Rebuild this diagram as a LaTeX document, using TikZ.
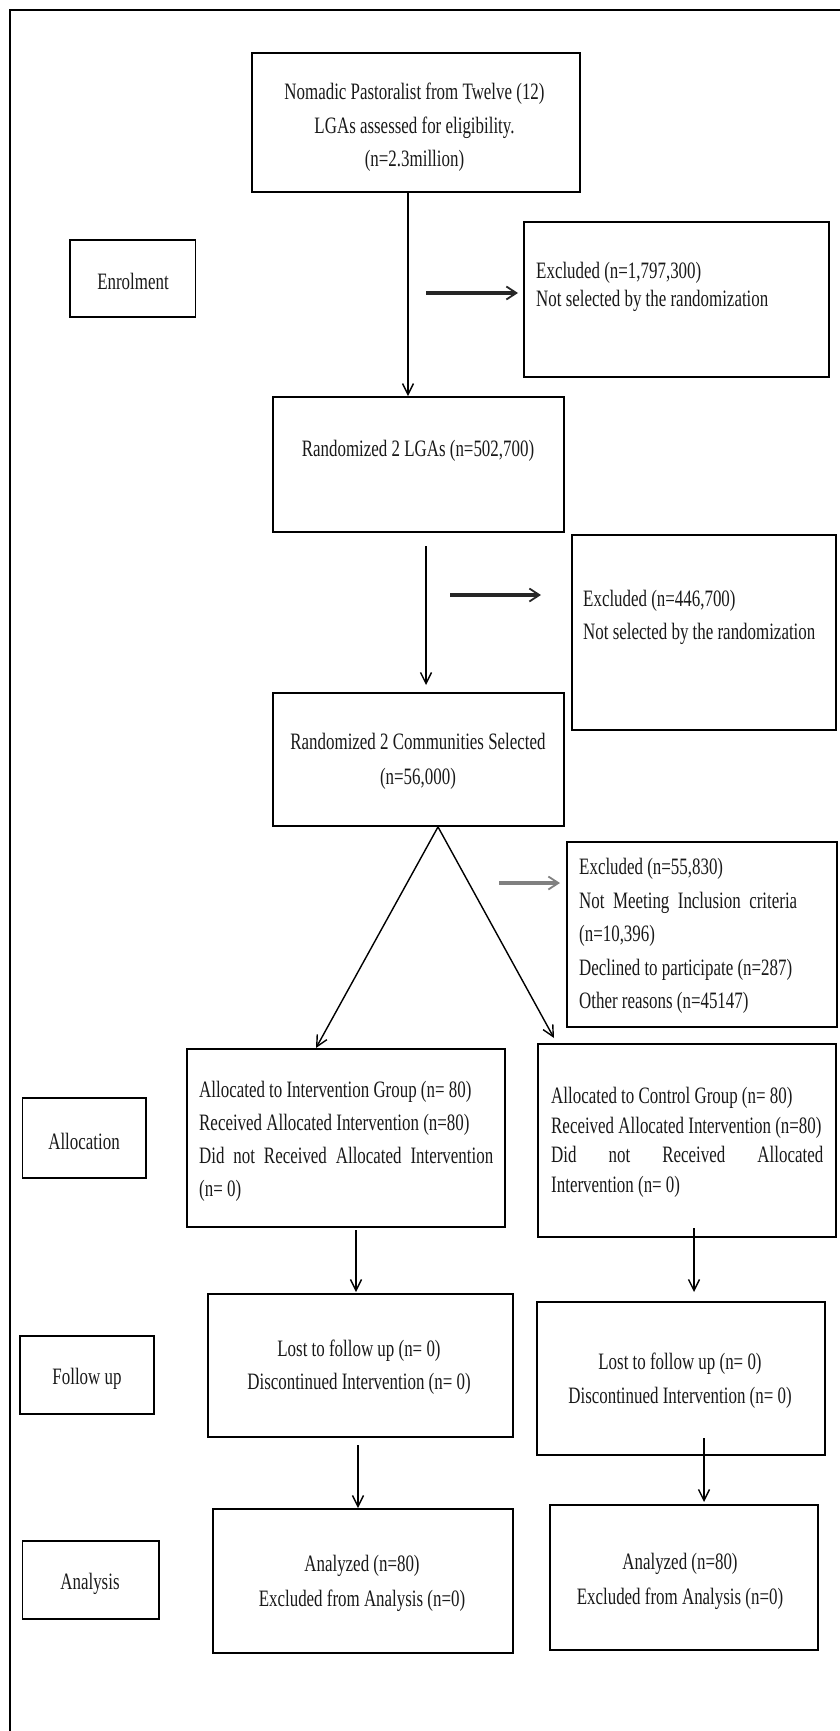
\documentclass[tikz,border=0pt]{standalone}
\usepackage{fontspec}
\setmainfont{Liberation Serif}[FakeStretch=0.72]
\usetikzlibrary{arrows.meta}
\begin{document}
\begin{tikzpicture}[x=1pt,y=-1pt,
  box/.style={draw, line width=1.8pt, inner sep=0pt},
  txt/.style={inner sep=0pt, text=black!90},
  sp/.style={font=\fontsize{23.5}{#1}\selectfont},
  arr/.style={line width=1.4pt, -{Straight Barb[length=11pt,width=11pt,line width=1.4pt]}},
  harr/.style={line width=3.5pt, draw=black!85, -{Straight Barb[length=10pt,width=13pt,line width=1.8pt]}}]
\useasboundingbox (0,0) rectangle (840,1731);
% outer frame
\draw[line width=2pt] (10,1731) -- (10,10) -- (840,10);

% boxes
\node[box, minimum width=328pt, minimum height=139pt] (top) at (416,122.5) {};
\node[box, minimum width=125.5pt, minimum height=77pt] (enr) at (132.75,278.5) {};
\node[box, minimum width=305pt, minimum height=155pt] (ex1) at (676.5,299.5) {};
\node[box, minimum width=291pt, minimum height=135pt] (rand) at (418.5,464.5) {};
\node[box, minimum width=264pt, minimum height=195pt] (ex2) at (704,632.5) {};
\node[box, minimum width=291pt, minimum height=133pt] (comm) at (418.5,759.5) {};
\node[box, minimum width=270pt, minimum height=185pt] (ex3) at (702,934.5) {};
\node[box, minimum width=123.5pt, minimum height=80pt] (alloc) at (84.25,1138) {};
\node[box, minimum width=318pt, minimum height=178pt] (interv) at (346,1138) {};
\node[box, minimum width=298pt, minimum height=193pt] (ctrl) at (687,1140.5) {};
\node[box, minimum width=134pt, minimum height=78pt] (ful) at (87,1375) {};
\node[box, minimum width=305pt, minimum height=143pt] (fu1) at (360.5,1365.5) {};
\node[box, minimum width=288pt, minimum height=153pt] (fu2) at (681,1378.5) {};
\node[box, minimum width=136.5pt, minimum height=78pt] (anl) at (90.75,1580) {};
\node[box, minimum width=300pt, minimum height=144pt] (an1) at (363,1581) {};
\node[box, minimum width=268pt, minimum height=145pt] (an2) at (684,1577.5) {};

% texts
\node[txt, sp=33.5, align=center] (ttop) at (414.5,127.5) {Nomadic Pastoralist from Twelve (12)\\LGAs assessed for eligibility.\\(n=2.3million)};
\node[txt, sp=24] (tenr) at (133,281) {Enrolment};
\node[txt, sp=28, align=left, anchor=west] (tex1) at (536,287) {Excluded (n=1,797,300)\\Not selected by the randomization};
\node[txt, sp=24] (trand) at (418,451) {Randomized 2 LGAs (n=502,700)};
\node[txt, sp=33, align=left, anchor=west] (tex2) at (583,617.5) {Excluded (n=446,700)\\Not selected by the randomization};
\node[txt, sp=35, align=center] (tcomm) at (418,761.5) {Randomized 2 Communities Selected\\(n=56,000)};
\node[txt, sp=33.5, align=left, anchor=west] (tex3) at (579,936) {Excluded (n=55,830)\\\makebox[218pt][s]{Not Meeting Inclusion criteria}\\(n=10,396)\\Declined to participate (n=287)\\Other reasons (n=45147)};
\node[txt, sp=24] (talloc) at (84,1141) {Allocation};
\node[txt, sp=33, align=left, anchor=west] (tinterv) at (199,1141) {Allocated to Intervention Group (n= 80)\\Received Allocated Intervention (n=80)\\\makebox[294pt][s]{Did not Received Allocated Intervention}\\(n= 0)};
\node[txt, sp=29.5, align=left, anchor=west] (tctrl) at (551,1142.5) {Allocated to Control Group (n= 80)\\Received Allocated Intervention (n=80)\\\makebox[272pt][s]{Did not Received Allocated}\\Intervention (n= 0)};
\node[txt, sp=24] (tful) at (87,1379) {Follow up};
\node[txt, sp=33, align=center] (tfu1) at (359,1367.5) {Lost to follow up (n= 0)\\Discontinued Intervention (n= 0)};
\node[txt, sp=34, align=center] (tfu2) at (680,1381) {Lost to follow up (n= 0)\\Discontinued Intervention (n= 0)};
\node[txt, sp=24] (tanl) at (90,1584) {Analysis};
\node[txt, sp=35, align=center] (tan1) at (362,1583.5) {Analyzed (n=80)\\Excluded from Analysis (n=0)};
\node[txt, sp=35, align=center] (tan2) at (680,1581.5) {Analyzed (n=80)\\Excluded from Analysis (n=0)};

% free arrow ends
\coordinate (a2s) at (426,546);
\coordinate (a2e) at (426,685);
\coordinate (h1s) at (426,293);
\coordinate (h1e) at (518,293);
\coordinate (h2s) at (450,595);
\coordinate (h2e) at (541,595);
\coordinate (h3s) at (499,883);
\coordinate (h3e) at (560,883);
\coordinate (dl) at (316,1048);
\coordinate (dr) at (554,1038);
\coordinate (c1s) at (356,1230);
\coordinate (c1e) at (356,1292);
\coordinate (c2s) at (694,1228);
\coordinate (c2e) at (694,1292);
\coordinate (f1s) at (358,1445);
\coordinate (f1e) at (358,1508);
\coordinate (f2s) at (704,1438);
\coordinate (f2e) at (704,1502);

% connectors
\draw[arr] ([xshift=-8pt]top.south) -- ([xshift=-10.5pt]rand.north);
\draw[arr] (a2s) -- (a2e);
\draw[harr] (h1s) -- (h1e);
\draw[harr] (h2s) -- (h2e);
\draw[harr, draw=black!50] (h3s) -- (h3e);
\draw[arr] ([xshift=19.5pt]comm.south) -- (dl);
\draw[arr] ([xshift=19.5pt]comm.south) -- (dr);
\draw[arr] (c1s) -- (c1e);
\draw[arr] (c2s) -- (c2e);
\draw[arr] (f1s) -- (f1e);
\draw[arr] (f2s) -- (f2e);
\end{tikzpicture}
\end{document}
